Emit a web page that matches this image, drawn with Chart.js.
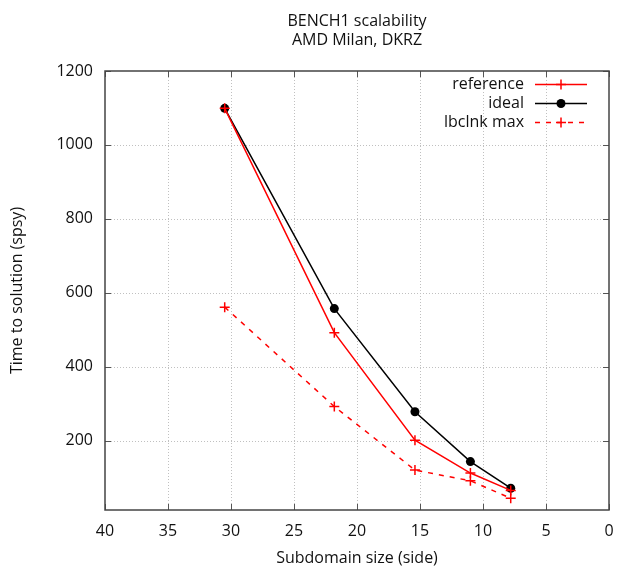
<!DOCTYPE html>
<html>
<head>
<meta charset="utf-8">
<script src="https://cdn.jsdelivr.net/npm/chart.js@4/dist/chart.umd.min.js"></script>
<style>
  html, body { margin: 0; padding: 0; background: #fff; }
  #wrap { width: 617px; height: 567px; }
</style>
</head>
<body>
<div id="wrap"><canvas id="c" width="617" height="567"></canvas></div>
<script>
const titleLines = ["BENCH1 scalability", "AMD Milan, DKRZ"];
const subdomainSize = [30.5, 21.8, 15.4, 11.0, 7.8];
const referenceTime = [1099, 492, 201, 112, 65];
const idealTime = [1099, 557, 278, 143, 71];
const lbclnkMaxTime = [561, 292, 120, 91, 44];
const seriesNames = ["reference", "ideal", "lbclnk max"];
const xTicks = [40, 35, 30, 25, 20, 15, 10, 5, 0];
const yTicks = [200, 400, 600, 800, 1000, 1200];

const FONT = "'Open Sans', 'DejaVu Sans', sans-serif";
const TEXT = "#111111";
const FS = 16;

function pts(xs, ys) { return xs.map((x, i) => ({ x: x, y: ys[i] })); }

const datasets = [
  { label: seriesNames[0], data: pts(subdomainSize, referenceTime), borderColor: "#ff0000", backgroundColor: "#ff0000",
    borderWidth: 1.5, pointStyle: "cross", pointRadius: 5, pointBorderWidth: 1.5, fill: false, tension: 0 },
  { label: seriesNames[1], data: pts(subdomainSize, idealTime), borderColor: "#000000", backgroundColor: "#000000",
    borderWidth: 1.5, pointStyle: "circle", pointRadius: 4.5, pointBorderWidth: 0, fill: false, tension: 0 },
  { label: seriesNames[2], data: pts(subdomainSize, lbclnkMaxTime), borderColor: "#ff0000", backgroundColor: "#ff0000",
    borderWidth: 1.5, borderDash: [5, 6], pointStyle: "cross", pointRadius: 5, pointBorderWidth: 1.5, fill: false, tension: 0 }
];

const framePlugin = {
  id: "frame",
  beforeDatasetsDraw(chart) {
    const { ctx, chartArea: a, scales } = chart;
    ctx.save();
    ctx.strokeStyle = "#c0c0c0";
    ctx.lineWidth = 1;
    ctx.setLineDash([1, 2]);
    xTicks.forEach(v => {
      const x = Math.round(scales.x.getPixelForValue(v)) + 0.5;
      if (x > a.left + 1 && x < a.right - 1) {
        ctx.beginPath(); ctx.moveTo(x, a.top); ctx.lineTo(x, a.bottom); ctx.stroke();
      }
    });
    yTicks.forEach(v => {
      const y = Math.round(scales.y.getPixelForValue(v)) + 0.5;
      if (y > a.top + 1 && y < a.bottom - 1) {
        ctx.beginPath(); ctx.moveTo(a.left, y); ctx.lineTo(a.right, y); ctx.stroke();
      }
    });
    ctx.setLineDash([]);
    ctx.strokeStyle = "#555";
    ctx.lineWidth = 1;
    const tl = 6;
    xTicks.forEach(v => {
      const x = Math.round(scales.x.getPixelForValue(v)) + 0.5;
      ctx.beginPath(); ctx.moveTo(x, a.bottom); ctx.lineTo(x, a.bottom - tl); ctx.stroke();
      ctx.beginPath(); ctx.moveTo(x, a.top); ctx.lineTo(x, a.top + tl); ctx.stroke();
    });
    yTicks.forEach(v => {
      const y = Math.round(scales.y.getPixelForValue(v)) + 0.5;
      ctx.beginPath(); ctx.moveTo(a.left, y); ctx.lineTo(a.left + tl, y); ctx.stroke();
      ctx.beginPath(); ctx.moveTo(a.right, y); ctx.lineTo(a.right - tl, y); ctx.stroke();
    });
    ctx.strokeStyle = "#444";
    ctx.lineWidth = 1.5;
    ctx.strokeRect(a.left, a.top, a.right - a.left, a.bottom - a.top);
    ctx.restore();
  },
  afterDraw(chart) {
    const { ctx, chartArea: a } = chart;
    ctx.save();
    ctx.fillStyle = TEXT;
    ctx.font = FS + "px " + FONT;
    ctx.textAlign = "center";
    ctx.textBaseline = "middle";
    const cx = (a.left + a.right) / 2;
    ctx.fillText(titleLines[0], cx, 21);
    ctx.fillText(titleLines[1], cx, 40);
    const rows = [84, 103, 122];
    const textRight = 524, x0 = 535, x1 = 587;
    chart.data.datasets.forEach((ds, i) => {
      const y = rows[i];
      ctx.fillStyle = TEXT;
      ctx.textAlign = "right";
      ctx.fillText(ds.label, textRight, y);
      ctx.strokeStyle = ds.borderColor;
      ctx.lineWidth = ds.borderWidth;
      ctx.setLineDash(ds.borderDash || []);
      ctx.beginPath(); ctx.moveTo(x0, y + 0.5); ctx.lineTo(x1, y + 0.5); ctx.stroke();
      ctx.setLineDash([]);
      const mx = (x0 + x1) / 2;
      if (ds.pointStyle === "circle") {
        ctx.fillStyle = ds.backgroundColor;
        ctx.beginPath(); ctx.arc(mx, y + 0.5, ds.pointRadius, 0, Math.PI * 2); ctx.fill();
      } else {
        const r = ds.pointRadius;
        ctx.lineWidth = ds.pointBorderWidth;
        ctx.beginPath();
        ctx.moveTo(mx - r, y + 0.5); ctx.lineTo(mx + r, y + 0.5);
        ctx.moveTo(mx, y - r + 0.5); ctx.lineTo(mx, y + r + 0.5);
        ctx.stroke();
      }
    });
    ctx.restore();
  }
};

new Chart(document.getElementById("c"), {
  type: "line",
  data: { datasets: datasets },
  options: {
    responsive: false,
    animation: false,
    layout: { padding: { top: 71, right: 8, left: 0, bottom: 0 } },
    plugins: { legend: { display: false }, title: { display: false }, tooltip: { enabled: false } },
    scales: {
      x: {
        type: "linear", reverse: true, min: 0, max: 40,
        afterBuildTicks: s => { s.ticks = xTicks.map(v => ({ value: v })); },
        afterFit: s => { s.height = 57; s.paddingLeft = 0; s.paddingRight = 0; },
        grid: { display: false, drawTicks: false },
        border: { display: false },
        ticks: { color: TEXT, font: { family: FONT, size: FS }, padding: 12, maxRotation: 0, autoSkip: false,
                 callback: v => String(v) },
        title: { display: true, text: "Subdomain size (side)", color: TEXT, font: { family: FONT, size: FS }, padding: { top: 0, bottom: -1 } }
      },
      y: {
        type: "linear", min: 12, max: 1200,
        afterBuildTicks: s => { s.ticks = yTicks.map(v => ({ value: v })); },
        afterFit: s => { s.width = 105; s.paddingTop = 0; s.paddingBottom = 0; },
        grid: { display: false, drawTicks: false },
        border: { display: false },
        ticks: { color: TEXT, font: { family: FONT, size: FS }, padding: 12, autoSkip: false,
                 callback: v => String(v) },
        title: { display: true, text: "Time to solution (spsy)", color: TEXT, font: { family: FONT, size: FS }, padding: { top: 8, bottom: 0 } }
      }
    }
  },
  plugins: [framePlugin]
});
</script>
</body>
</html>
